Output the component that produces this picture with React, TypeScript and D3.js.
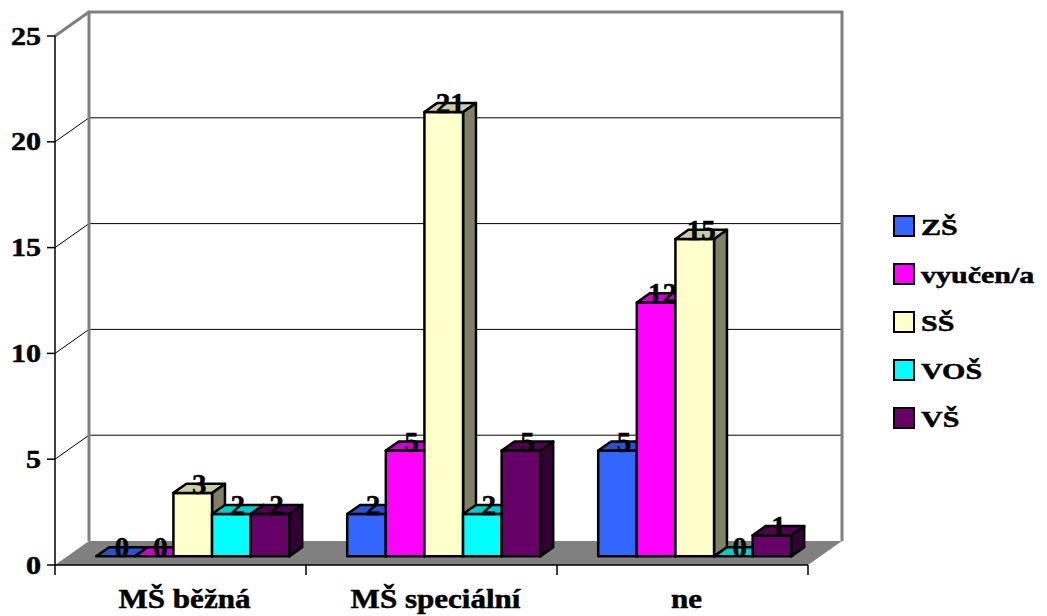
import React from "react";
import * as d3 from "d3";

// Categories and series
const categories = ["MŠ běžná", "MŠ speciální", "ne"];
const seriesNames = ["ZŠ", "vyučen/a", "SŠ", "VOŠ", "VŠ"];
const zsValues = [0, 2, 5];
const vyucenValues = [0, 5, 12];
const ssValues = [3, 21, 15];
const vosValues = [2, 2, 0];
const vsValues = [2, 5, 1];
const seriesColors = ["#3366FF", "#FF00FF", "#FFFFCC", "#00FFFF", "#660066"];
const yTicks = [0, 5, 10, 15, 20, 25];

const seriesValues = [zsValues, vyucenValues, ssValues, vosValues, vsValues];

const W = 1047;
const H = 616;
const textStyle: React.CSSProperties = {
  fontFamily: "Liberation Serif, Times New Roman, serif",
  fontWeight: "bold",
  stroke: "#000",
  strokeWidth: 0.5,
};

// Plot frame (front plane) and depth offset of the 3D box
const X0 = 55;
const X1 = 808;
const Y_BASE = 565;
const Y_TOP = 36;
const DX = 34;
const DY = -24;
// Depth fractions for the bars' front and back faces
const F1 = 0.36;
const F2 = 0.74;

function shade(c: string, k: number) {
  const col = d3.rgb(c);
  return d3.rgb(col.r * k, col.g * k, col.b * k).formatHex();
}

export default function App() {
  const x = d3.scaleBand<string>().domain(categories).range([X0, X1]);
  const inner = d3
    .scaleBand<string>()
    .domain(seriesNames)
    .range([0, x.bandwidth()])
    .paddingInner(0)
    .paddingOuter(0.75);
  const y = d3.scaleLinear().domain([0, 25]).range([Y_BASE, Y_TOP]);

  const p = (px: number, py: number, f: number) => [px + DX * f, py + DY * f];
  const poly = (pts: number[][]) => pts.map((q) => q.join(",")).join(" ");

  const bars: React.ReactNode[] = [];
  categories.forEach((cat, ci) => {
    seriesNames.forEach((s, si) => {
      const v = seriesValues[si][ci];
      const color = seriesColors[si];
      const x0 = (x(cat) as number) + (inner(s) as number);
      const x1 = x0 + inner.bandwidth();
      const yt = y(v);
      const yb = y(0);
      const top = poly([p(x0, yt, F1), p(x1, yt, F1), p(x1, yt, F2), p(x0, yt, F2)]);
      const lx = (x0 + x1) / 2 + DX * ((F1 + F2) / 2);
      const ly = yt + DY * F1 + 1;
      bars.push(
        <g key={`${ci}-${si}`}>
          {v > 0 && (
            <>
              <polygon
                points={poly([p(x1, yt, F1), p(x1, yt, F2), p(x1, yb, F2), p(x1, yb, F1)])}
                fill={shade(color, 0.5)}
                stroke="#000"
                strokeWidth={2.5}
                strokeLinejoin="round"
              />
              <polygon
                points={poly([p(x0, yt, F1), p(x1, yt, F1), p(x1, yb, F1), p(x0, yb, F1)])}
                fill={color}
                stroke="#000"
                strokeWidth={2.5}
                strokeLinejoin="round"
              />
            </>
          )}
          <polygon points={top} fill={shade(color, 0.8)} stroke="#000" strokeWidth={2.5} strokeLinejoin="round" />
          <text x={lx} y={ly} textAnchor="middle" fontSize={29} fill="#000" style={textStyle}>
            {v}
          </text>
        </g>
      );
    });
  });

  const backTop = Y_TOP + DY;
  const backBase = Y_BASE + DY;

  return (
    <svg width={W} height={H} style={{ display: "block", position: "absolute", left: 0, top: 0 }}>
      <rect x={0} y={0} width={W} height={H} fill="#fff" />
      {/* floor */}
      <polygon
        points={poly([
          [X0, Y_BASE],
          [X1, Y_BASE],
          [X1 + DX, backBase],
          [X0 + DX, backBase],
        ])}
        fill="#808080"
      />
      {/* gridlines on side wall and back wall */}
      {yTicks.slice(1, -1).map((t) => (
        <g key={t}>
          <line x1={X0} y1={y(t)} x2={X0 + DX} y2={y(t) + DY} stroke="#000" strokeWidth={1} />
          <line x1={X0 + DX} y1={y(t) + DY} x2={X1 + DX} y2={y(t) + DY} stroke="#000" strokeWidth={1} />
        </g>
      ))}
      {/* wall frame */}
      <polyline
        points={poly([
          [X0 + DX, backBase],
          [X0 + DX, backTop],
          [X1 + DX, backTop],
          [X1 + DX, backBase],
        ])}
        fill="none"
        stroke="#808080"
        strokeWidth={3}
      />
      <line x1={X0} y1={Y_TOP} x2={X0 + DX} y2={backTop} stroke="#808080" strokeWidth={3} />
      {/* y axis */}
      <line x1={X0} y1={Y_TOP} x2={X0} y2={Y_BASE} stroke="#000" strokeWidth={1.5} />
      {yTicks.map((t) => (
        <g key={t}>
          <line x1={X0 - 8} y1={y(t)} x2={X0} y2={y(t)} stroke="#000" strokeWidth={1.5} />
          <text
            transform={`translate(${X0 - 14},${y(t) + 8.5}) scale(1.2,1)`}
            textAnchor="end"
            fontSize={25}
            fill="#000"
            style={textStyle}
          >
            {t}
          </text>
        </g>
      ))}
      {/* x axis */}
      <line x1={X0} y1={Y_BASE} x2={X1} y2={Y_BASE} stroke="#000" strokeWidth={1.5} />
      {[...categories.map((c) => x(c) as number), X1].map((tx, i) => (
        <line key={i} x1={tx} y1={Y_BASE} x2={tx} y2={Y_BASE + 10} stroke="#000" strokeWidth={1.5} />
      ))}
      {categories.map((c) => (
        <text
          key={c}
          transform={`translate(${(x(c) as number) + x.bandwidth() / 2 + 4},608) scale(1.15,1)`}
          textAnchor="middle"
          fontSize={27}
          fill="#000"
          style={textStyle}
        >
          {c}
        </text>
      ))}
      {bars}
      {/* legend */}
      {seriesNames.map((s, i) => {
        const cy = 226 + i * 48;
        return (
          <g key={s}>
            <rect x={894} y={cy - 10} width={20} height={20} fill={seriesColors[i]} stroke="#000" strokeWidth={2} />
            <text transform={`translate(921,${cy + 8.5}) scale(1.25,1)`} fontSize={24} fill="#000" style={textStyle}>
              {s}
            </text>
          </g>
        );
      })}
    </svg>
  );
}
